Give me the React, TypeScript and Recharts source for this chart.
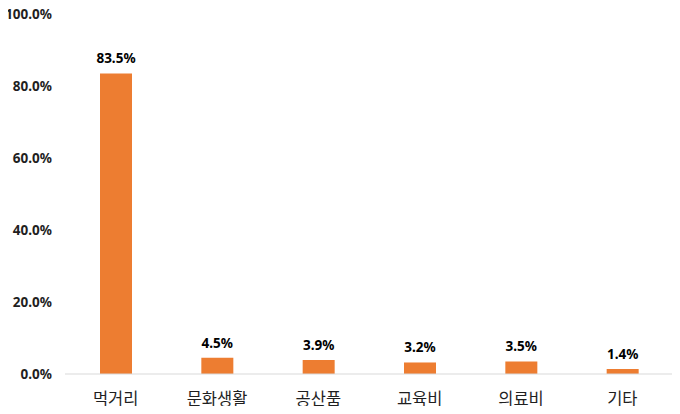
import React from 'react';
import { BarChart, Bar, XAxis, YAxis, LabelList } from 'recharts';

const categories = ['먹거리', '문화생활', '공산품', '교육비', '의료비', '기타'];
const shares = [83.5, 4.5, 3.9, 3.2, 3.5, 1.4];
const yTicks = [0, 20, 40, 60, 80, 100];

const data = categories.map((name, i) => ({ name, value: shares[i] }));

const FONT = '"Noto Sans CJK KR", "Noto Sans", sans-serif';
const NUM_FONT = '"Noto Sans", "Noto Sans CJK KR", sans-serif';

const App: React.FC = () => {
    return (
        <div style={{ margin: -8, width: 680, height: 414, background: '#fff', fontFamily: FONT }}>
            <BarChart
                width={680}
                height={414}
                data={data}
                margin={{ top: 14, right: 7, left: 0, bottom: 0 }}
                style={{ overflow: 'visible' }}
            >
                <XAxis
                    dataKey="name"
                    height={40}
                    axisLine={{ stroke: '#d9d9d9', strokeWidth: 1 }}
                    tickLine={false}
                    tick={{ fill: '#1f1f1f', fontSize: 16.5, fontFamily: FONT }}
                    tickMargin={13}
                />
                <YAxis
                    width={65}
                    domain={[0, 100]}
                    ticks={yTicks}
                    axisLine={false}
                    tickLine={false}
                    tickFormatter={(v: number) => `${v.toFixed(1)}%`}
                    tick={{ fill: '#1f1f1f', fontSize: 13.5, fontWeight: 700, fontFamily: NUM_FONT }}
                    tickMargin={7}
                />
                <Bar dataKey="value" fill="#ed7d31" barSize={32} isAnimationActive={false}>
                    <LabelList
                        dataKey="value"
                        position="top"
                        offset={10}
                        formatter={(v: number) => `${v.toFixed(1)}%`}
                        style={{ fill: '#000', fontSize: 13.5, fontWeight: 700, fontFamily: NUM_FONT }}
                    />
                </Bar>
            </BarChart>
        </div>
    );
};

export default App;
